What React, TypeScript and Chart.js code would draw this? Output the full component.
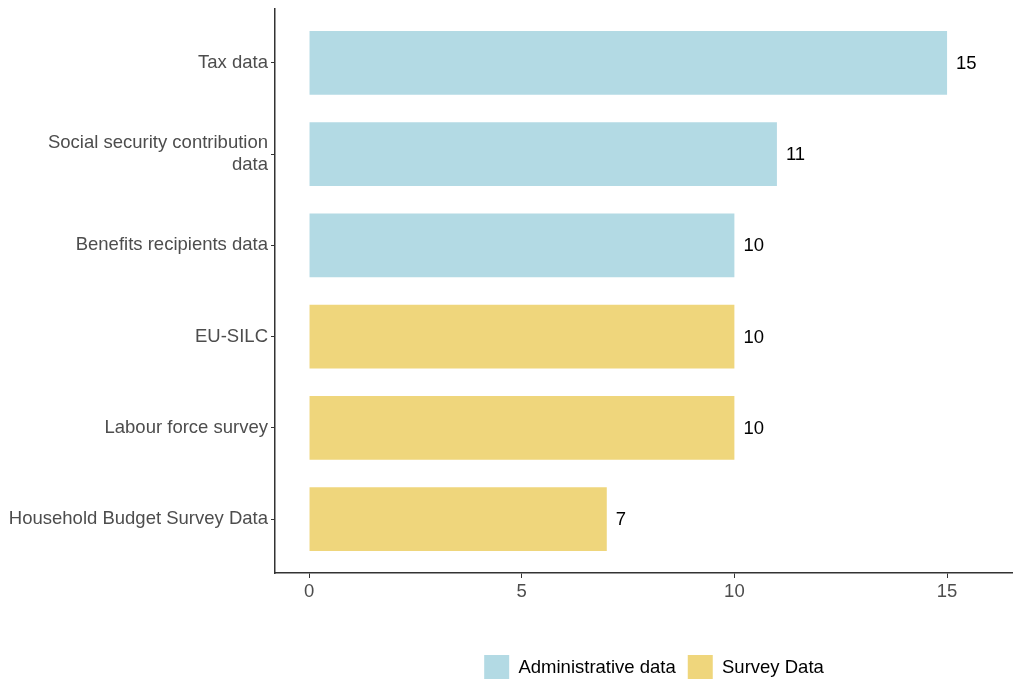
import React, { useEffect, useRef } from "react";
import { Chart, registerables } from "chart.js";

Chart.register(...registerables);

const categories = [
  "Tax data",
  "Social security contribution\ndata",
  "Benefits recipients data",
  "EU-SILC",
  "Labour force survey",
  "Household Budget Survey Data",
];
const adminValues = [15, 11, 10];
const adminIndex = [0, 1, 2];
const surveyValues = [10, 10, 7];
const surveyIndex = [3, 4, 5];
const xTicks = [0, 5, 10, 15];

const FONT = "'Liberation Sans', Arial, sans-serif";

const valueLabels = {
  id: "valueLabels",
  afterDatasetsDraw(chart: any) {
    const ctx = chart.ctx;
    const xs = chart.scales.x;
    const ys = chart.scales.y;
    ctx.save();
    ctx.font = `18.5px ${FONT}`;
    ctx.fillStyle = "#000000";
    ctx.textAlign = "left";
    ctx.textBaseline = "middle";
    chart.data.datasets.forEach((ds: any) => {
      ds.data.forEach((p: any) => {
        ctx.fillText(String(p.x), xs.getPixelForValue(p.x) + 9, ys.getPixelForValue(p.y) + 1);
      });
    });
    ctx.restore();
  },
};

const legendShift = {
  id: "legendShift",
  afterLayout(chart: any) {
    if (chart.legend) {
      chart.legend.left += 10;
      chart.legend.right += 10;
    }
  },
};

export default function App() {
  const ref = useRef<HTMLCanvasElement>(null);
  useEffect(() => {
    document.body.style.margin = "0";
    document.body.style.overflow = "hidden";
    const chart = new Chart(ref.current!, {
      type: "bar",
      data: {
        datasets: [
          {
            label: "Administrative data",
            data: adminValues.map((v, i) => ({ x: v, y: adminIndex[i] })),
            backgroundColor: "#b3dae4",
            borderWidth: 0,
            grouped: false,
            barPercentage: 0.7,
            categoryPercentage: 1,
          } as any,
          {
            label: "Survey Data",
            data: surveyValues.map((v, i) => ({ x: v, y: surveyIndex[i] })),
            backgroundColor: "#efd67c",
            borderWidth: 0,
            grouped: false,
            barPercentage: 0.7,
            categoryPercentage: 1,
          } as any,
        ],
      },
      options: {
        indexAxis: "y",
        animation: false,
        responsive: false,
        maintainAspectRatio: false,
        layout: { padding: { top: 9, right: 0, left: 0, bottom: 0 } },
        plugins: {
          legend: {
            position: "bottom",
            fullSize: false,
            labels: {
              boxWidth: 25,
              boxHeight: 25,
              color: "#000000",
              padding: 12,
              font: { family: FONT, size: 18.5 },
            },
          },
          tooltip: { enabled: false },
        },
        scales: {
          x: {
            type: "linear",
            min: -0.8,
            max: 16.55,
            afterBuildTicks: (scale: any) => {
              scale.ticks = xTicks.map((v) => ({ value: v }));
            },
            afterFit: (scale: any) => {
              scale.height = 70;
              scale.paddingLeft = 0;
              scale.paddingRight = 0;
            },
            border: { display: true, color: "#333333", width: 1.5 },
            grid: { drawOnChartArea: false, drawTicks: true, tickLength: 5, color: "#333333" },
            ticks: {
              color: "#4d4d4d",
              padding: 3,
              font: { family: FONT, size: 18.5 },
            },
          },
          y: {
            type: "linear",
            reverse: true,
            offset: false,
            min: -0.59,
            max: 5.59,
            afterBuildTicks: (scale: any) => {
              scale.ticks = categories.map((_, i) => ({ value: i }));
            },
            afterFit: (scale: any) => {
              scale.width = 275;
              scale.paddingTop = 0;
              scale.paddingBottom = 0;
            },
            border: { display: true, color: "#333333", width: 1.5 },
            grid: { offset: false, drawOnChartArea: false, drawTicks: true, tickLength: 4, color: "#333333" },
            ticks: {
              color: "#4d4d4d",
              padding: 3,
              font: { family: FONT, size: 18.5 },
              callback: (v: any) => {
                const c = categories[Math.round(Number(v))];
                return c ? c.split("\n") : "";
              },
            },
          },
        },
      },
      plugins: [valueLabels, legendShift],
    });
    return () => chart.destroy();
  }, []);
  return (
    <div style={{ width: 1013, height: 679, overflow: "hidden" }}>
      <canvas ref={ref} width={1013} height={690} style={{ display: "block" }} />
    </div>
  );
}
